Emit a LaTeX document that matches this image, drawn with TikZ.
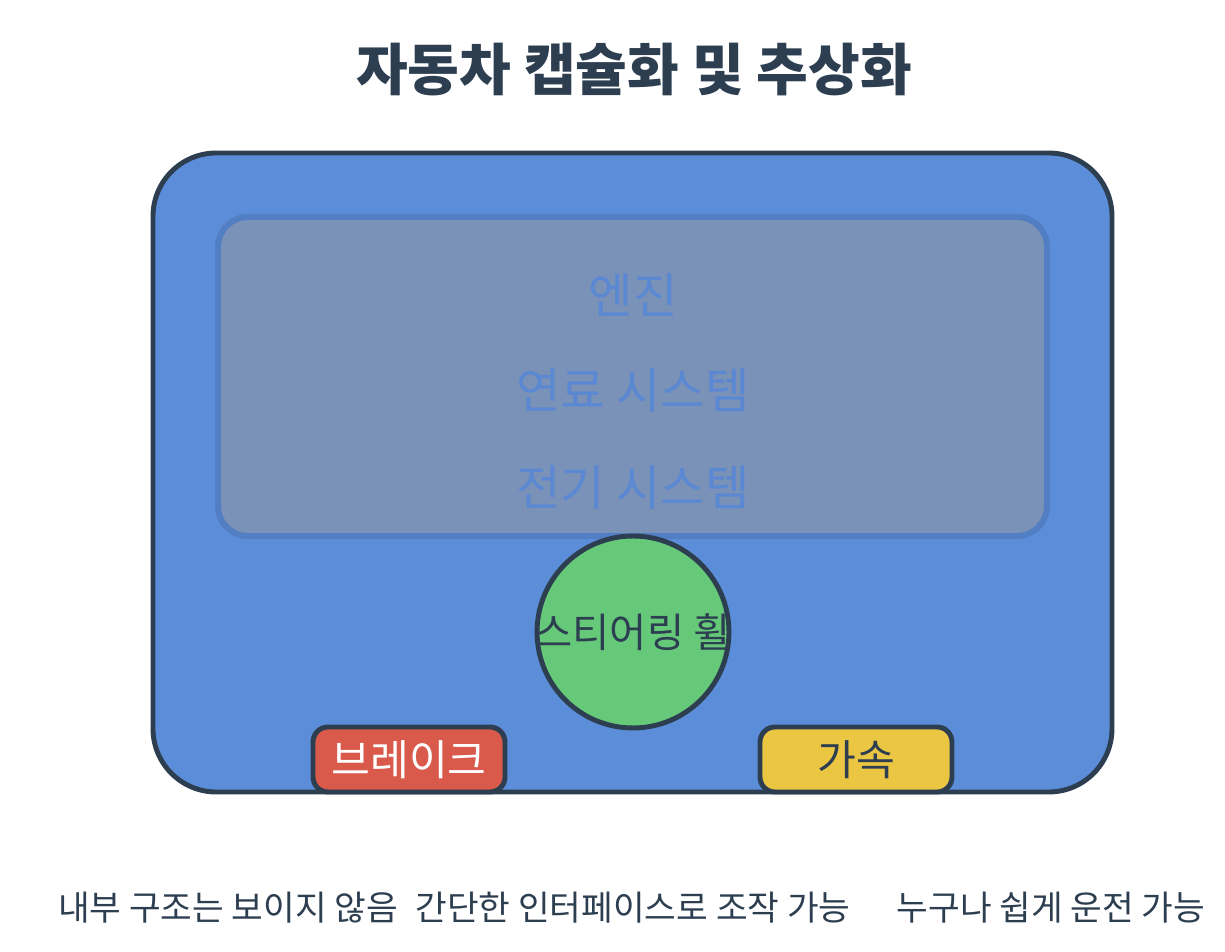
\documentclass[tikz,border=0pt]{standalone}
\usepackage{fontspec}
\setmainfont{Noto Sans CJK KR}
\usetikzlibrary{positioning}
\definecolor{cdark}{HTML}{2C3E50}
\definecolor{cbody}{HTML}{5B8DD9}
\definecolor{cinner}{HTML}{7A91B8}
\definecolor{cinnerline}{HTML}{527EC4}
\definecolor{cinnertext}{HTML}{5A88D2}
\definecolor{cwheel}{HTML}{66C97A}
\definecolor{cbrake}{HTML}{D9594A}
\definecolor{caccel}{HTML}{EBC642}
\tikzset{
  every picture/.style={x=0.02cm, y=-0.02cm},
  title/.style={font=\fontsize{32pt}{36pt}\selectfont\bfseries, text=cdark},
  part/.style={font=\fontsize{27.5pt}{31pt}\selectfont, text=cinnertext},
  pedal/.style={draw=cdark, line width=2.8pt, rounded corners=8.5pt, fill=#1,
    minimum width=3.84cm, minimum height=1.3cm, inner sep=0pt,
    font=\fontsize{24pt}{28pt}\selectfont},
  note/.style={font=\fontsize{19.6pt}{23pt}\selectfont, text=cdark},
}
\begin{document}
\begin{tikzpicture}
  \useasboundingbox (0,0) rectangle (1225,952);
  \node[title] (title) at (634,70) {자동차 캡슐화 및 추상화};
  % car body and hidden internals
  \draw[cdark, fill=cbody, line width=2.8pt, rounded corners=36pt] (153,153) rectangle (1112,792);
  \draw[cinnerline, fill=cinner, line width=3.4pt, rounded corners=17pt] (218,217) rectangle (1047,536);
  \node[part] (engine) at (633,295) {엔진};
  \node[part] (fuel) at (633,390) {연료 시스템};
  \node[part] (elec) at (633,487) {전기 시스템};
  % what the driver sees
  \node[circle, draw=cdark, fill=cwheel, line width=2.8pt, minimum size=3.84cm, inner sep=0pt] (wheel) at (633,632) {};
  \node[font=\fontsize{23pt}{27pt}\selectfont, text=cdark] (wheeltext) at (wheel.center) {스티어링 휠};
  \node[pedal=cbrake, text=white] (brake) at (409,759.5) {브레이크};
  \node[pedal=caccel, text=cdark] (accel) at (856,759.5) {가속};
  % notes
  \node[note] (hidden) at (228,908) {내부 구조는 보이지 않음};
  \node[note] (simple) at (633,908) {간단한 인터페이스로 조작 가능};
  \node[note] (easy) at (1051,908) {누구나 쉽게 운전 가능};
\end{tikzpicture}
\end{document}
